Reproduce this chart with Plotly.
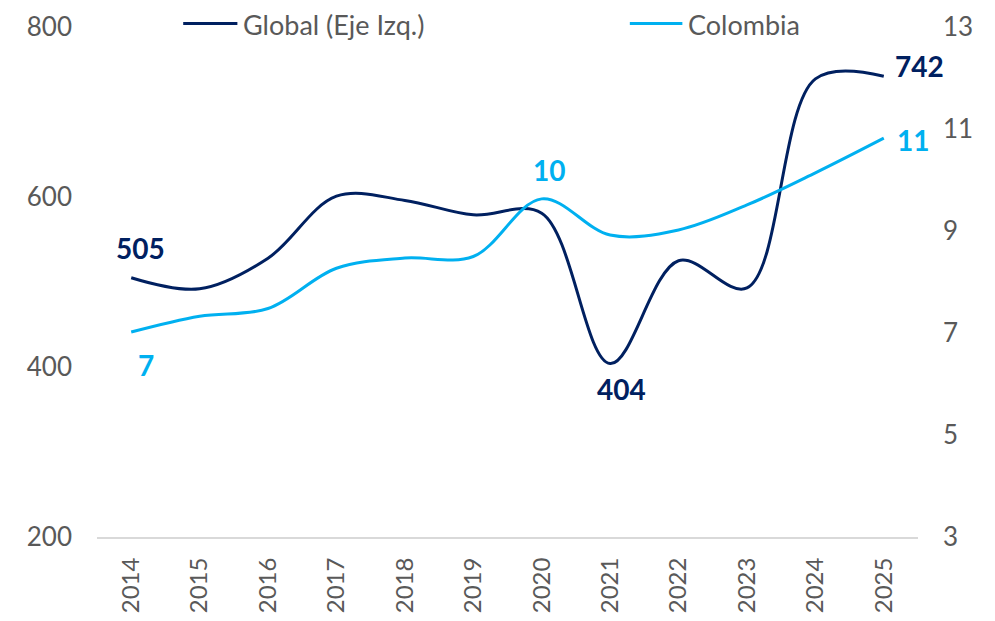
import plotly.graph_objects as go

# data
years = ["2014", "2015", "2016", "2017", "2018", "2019", "2020", "2021", "2022", "2023", "2024", "2025"]
global_vals = [505, 492, 528, 601, 596, 579, 581, 404, 525, 493, 739, 742]
colombia_vals = [7.02, 7.33, 7.48, 8.27, 8.47, 8.50, 9.63, 8.92, 9.02, 9.51, 10.14, 10.82]
series_names = ["Global (Eje Izq.)", "Colombia"]

NAVY = "#002060"
CYAN = "#00B0F0"
GREY = "#595959"
FONT = "Lato"

fig = go.Figure()

fig.add_trace(go.Scatter(
    x=years, y=global_vals, name=series_names[0], showlegend=False,
    mode="lines", line=dict(color=NAVY, width=3, shape="spline", smoothing=1),
))
fig.add_trace(go.Scatter(
    x=years, y=colombia_vals, name=series_names[1], yaxis="y2", showlegend=False,
    mode="lines", line=dict(color=CYAN, width=3, shape="spline", smoothing=1),
))

# data labels: (axis, series, index, color, xshift, yshift)
labels = [
    ("y", global_vals, 0, NAVY, 9, 30),
    ("y2", colombia_vals, 0, CYAN, 15, -33),
    ("y2", colombia_vals, 6, CYAN, 7, 29),
    ("y", global_vals, 7, NAVY, 11, -25),
    ("y", global_vals, 11, NAVY, 36, 10),
    ("y2", colombia_vals, 11, CYAN, 29, -2),
]
for yref, vals, i, col, dx, dy in labels:
    # category axis: position by category index
    fig.add_annotation(
        x=i, y=vals[i], xref="x", yref=yref,
        text=f"<b>{vals[i]:.0f}</b>", showarrow=False,
        xshift=dx, yshift=dy,
        font=dict(family=FONT, size=28, color=col),
    )

# legend drawn by hand so it sits above the plot without pushing the margin
legend_items = [(series_names[0], NAVY, 0.105, 0.171), (series_names[1], CYAN, 0.649, 0.713)]
for name, col, x0, x1 in legend_items:
    fig.add_shape(type="line", xref="paper", yref="paper",
                  x0=x0, x1=x1, y0=1.007, y1=1.007,
                  line=dict(color=col, width=3))
    fig.add_annotation(x=x1 + 0.004, y=1.005, xref="paper", yref="paper",
                       text=name, showarrow=False, xanchor="left", yanchor="middle",
                       font=dict(family=FONT, size=27, color=GREY))

# page body keeps an 8px margin, so the figure is 16px smaller than the window
fig.update_layout(
    width=979, height=605,
    margin=dict(l=89, r=69, t=19, b=76),
    paper_bgcolor="white", plot_bgcolor="white",
    font=dict(family=FONT, size=26, color=GREY),
    showlegend=False,
    xaxis=dict(
        type="category", range=[-0.5, 11.5], tickangle=-90, showgrid=False,
        showline=True, linecolor="#D9D9D9", linewidth=2, automargin=False,
        ticks="", ticklabelstandoff=9,
        tickfont=dict(family=FONT, size=24, color=GREY),
    ),
    yaxis=dict(
        range=[200, 800], tickvals=[200, 400, 600, 800],
        showgrid=False, zeroline=False, showline=False, automargin=False,
        ticks="", ticklabelstandoff=24,
        tickfont=dict(family=FONT, size=26, color=GREY),
    ),
    yaxis2=dict(
        range=[3, 13], tickvals=[3, 5, 7, 9, 11, 13],
        overlaying="y", side="right", automargin=False,
        showgrid=False, zeroline=False, showline=False,
        ticks="", ticklabelstandoff=24,
        tickfont=dict(family=FONT, size=26, color=GREY),
    ),
)

fig.write_html("out.html")
